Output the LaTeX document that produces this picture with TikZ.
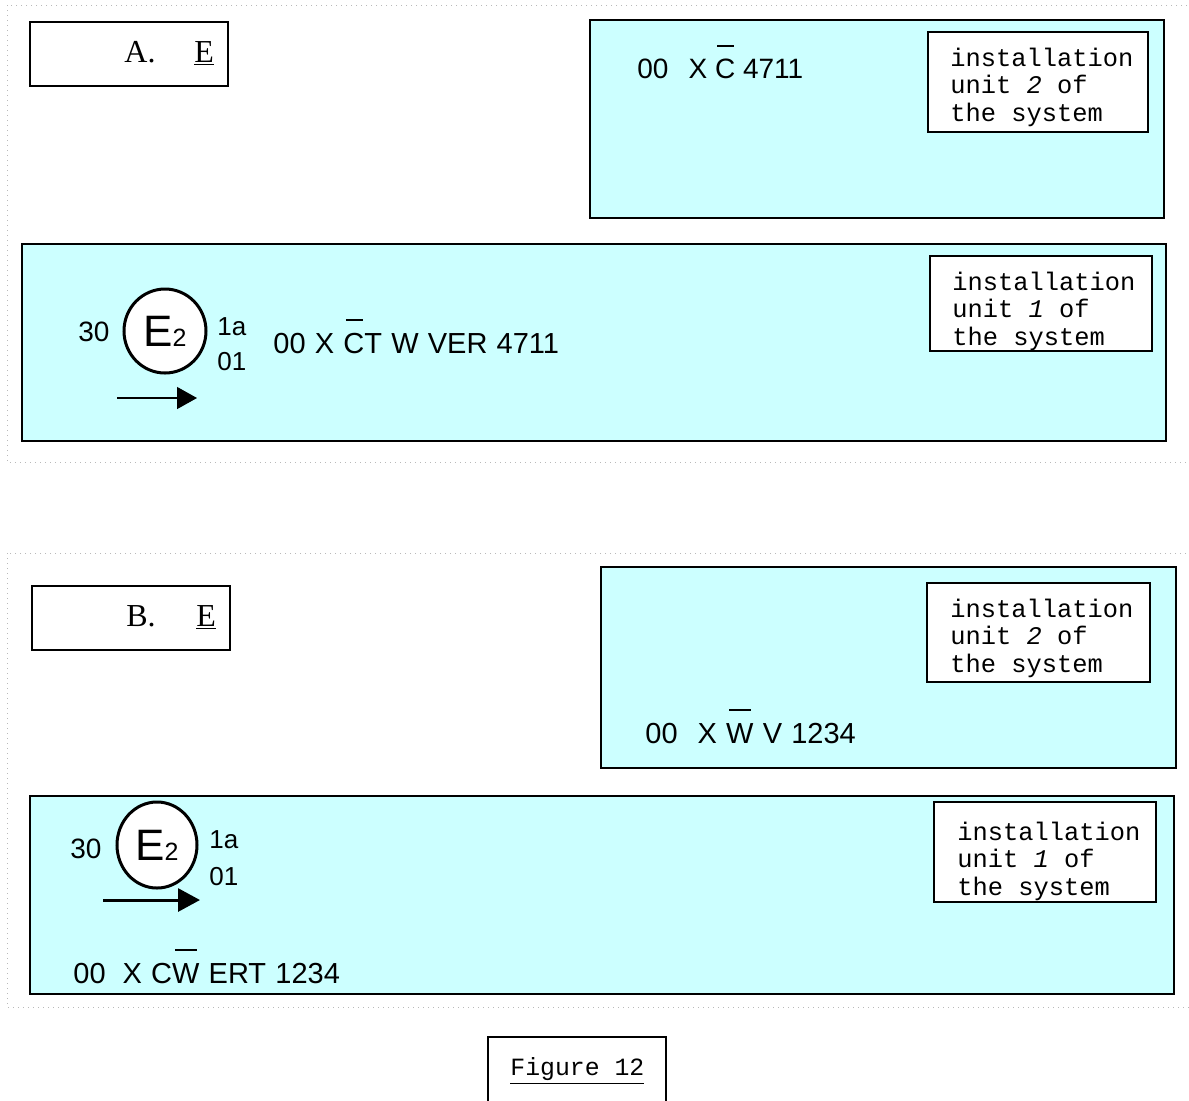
\documentclass[tikz,border=0pt]{standalone}
\usepackage{fontspec}
\setmainfont{Liberation Sans}
\newfontfamily\timesfont{Liberation Serif}
\newfontfamily\courfont{Liberation Mono}
\usetikzlibrary{arrows, arrows.meta}
\usetikzlibrary{shapes.geometric}
\definecolor{paleblue}{RGB}{204,255,255}
\newsavebox{\ovlbox}
\newcommand{\ovl}[1]{\leavevmode\sbox{\ovlbox}{#1}\rlap{\hspace{0.12\wd\ovlbox}\rule[1.12em]{0.8\wd\ovlbox}{0.75pt}}\usebox{\ovlbox}}

\begin{document}
\begin{tikzpicture}[x=0.5pt, y=-0.5pt,
		dotframe/.style={gray!55, dotted, line width=0.5pt},
		labelbox/.style={draw=black, line width=1pt},
		bluepanel/.style={draw=black, fill=paleblue, line width=1pt},
		unitbox/.style={draw=black, fill=white, line width=1pt},
		txt/.style={anchor=base west, inner sep=0pt, font=\fontsize{14}{16}\selectfont},
		codetxt/.style={txt, font={\fontsize{14.5}{16}\selectfont\spaceskip=4.6pt\relax}},
		small/.style={txt, font=\fontsize{13}{15}\selectfont},
		lettertxt/.style={txt, font=\timesfont\fontsize{16}{18}\selectfont},
		unittxt/.style={anchor=base west, inner sep=0pt, align=left, font=\courfont\fontsize{12.7}{13.6}\selectfont},
		seal/.style={ellipse, draw=black, fill=white, line width=1.5pt, inner sep=0pt,
			font={\fontsize{22}{22}\selectfont}}]
					\useasboundingbox (0,0) rectangle (1189,1100);
					%part A
					\draw[dotframe] (7,5) rectangle (1200,462);
					\draw[labelbox] (30,22) rectangle (228,86);
					\node[lettertxt] (letA) at (124,62) {A.};
					\node[lettertxt] (eA) at (194,62) {\underline{E}};
					%upper panel
					\draw[bluepanel] (590,20) rectangle (1164,218);
					\draw[unitbox] (928,32) rectangle (1148,132);
					\node[unittxt] (unitAtwo) at (950,121) {installation\\unit \textit{2} of\\the system};
					\node[txt] (codeAtop) at (637,78) {00\hspace{10pt}X \ovl{C} 4711};
					%lower panel
					\draw[bluepanel] (22,244) rectangle (1166,441);
					\draw[unitbox] (930,256) rectangle (1152,351);
					\begin{scope}
						\clip (930,256) rectangle (1152,351);
						\node[unittxt] (unitAone) at (952,345) {installation\\unit \textit{1} of\\the system};
					\end{scope}
					\node[seal, minimum width=41pt, minimum height=42pt] (sealA) at (165,331) {E{\fontsize{12.5}{12.5}\selectfont 2}};
					\node[txt] (thirtyA) at (78,341) {30};
					\node[small] (oneaA) at (217,335) {1a};
					\node[small] (zeroA) at (217,370) {01};
					\node[codetxt] (codeAbot) at (273,353) {00 X \ovl{C}T W VER 4711};
					%arrow
					\coordinate (arA1) at (117,398);
					\coordinate (arA2) at (197,398);
					\draw[line width=0.7pt, -{Triangle[length=10pt, width=11pt]}] (arA1) -- (arA2);

					%part B
					\draw[dotframe] (7,553) rectangle (1200,1007);
					\draw[labelbox] (32,586) rectangle (230,650);
					\node[lettertxt] (letB) at (126,626) {B.};
					\node[lettertxt] (eB) at (196,626) {\underline{E}};
					%upper panel
					\draw[bluepanel] (601,567) rectangle (1176,768);
					\draw[unitbox] (927,583) rectangle (1150,682);
					\node[unittxt] (unitBtwo) at (950,672) {installation\\unit \textit{2} of\\the system};
					\node[codetxt] (codeBtop) at (645,743) {00\hspace{10pt}X \ovl{W} V 1234};
					%lower panel
					\draw[bluepanel] (30,796) rectangle (1174,994);
					\draw[unitbox] (934,802) rectangle (1156,902);
					\begin{scope}
						\clip (934,802) rectangle (1156,902);
						\node[unittxt] (unitBone) at (957,895) {installation\\unit \textit{1} of\\the system};
					\end{scope}
					\node[seal, minimum width=40pt, minimum height=43pt] (sealB) at (157,845) {E{\fontsize{12.5}{12.5}\selectfont 2}};
					\node[txt] (thirtyB) at (70,858) {30};
					\node[small] (oneaB) at (209,848) {1a};
					\node[small] (zeroB) at (209,885) {01};
					\node[codetxt] (codeBbot) at (73,983) {00\hspace{8.5pt}X C\ovl{W} ERT 1234};
					%arrow
					\coordinate (arB1) at (103,900);
					\coordinate (arB2) at (200,900);
					\draw[line width=1.5pt, -{Triangle[length=11pt, width=11.5pt]}] (arB1) -- (arB2);

					%caption
					\draw[labelbox] (488,1037) rectangle (666,1120);
					\node[txt, font=\courfont\fontsize{12.4}{14}\selectfont] (caption) at (510,1075) {\underline{Figure 12}};
				\end{tikzpicture}
\end{document}
